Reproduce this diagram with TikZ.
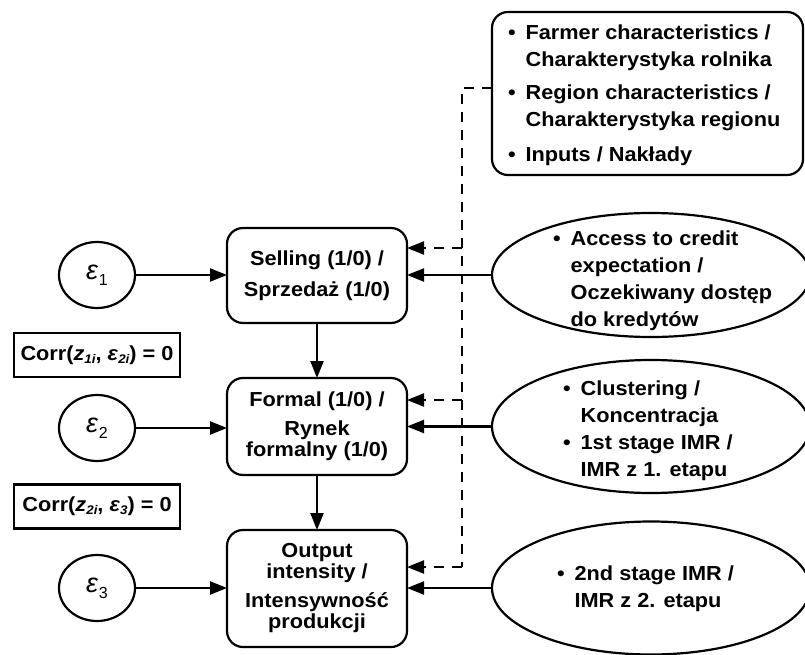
\documentclass[tikz,border=0pt]{standalone}
\usepackage{fontspec}
\setmainfont{Liberation Sans}[FakeStretch=1.07]
\newfontfamily\epsfont{Liberation Sans}
\usetikzlibrary{shapes.geometric,arrows.meta}
\begin{document}
\begin{tikzpicture}[x=1pt,y=-1pt,
 every node/.style={font=\fontsize{20.3}{21}\selectfont\bfseries, inner sep=0pt, outer sep=0pt},
 ln/.style={line width=2.2pt},
 arr/.style={ln,-{Triangle[length=17pt,width=13pt]}},
 dsh/.style={ln,dash pattern=on 10pt off 8pt},
 rbox/.style={draw,ln,rounded corners=16pt,minimum width=180pt,align=center},
 eps/.style={draw,ln,ellipse,minimum width=76pt,minimum height=66pt},
 oval/.style={draw,ln,ellipse,minimum width=318pt},
 corr/.style={draw,ln,minimum width=166pt,minimum height=44pt},
 lst/.style={anchor=base west}]
\useasboundingbox (0,0) rectangle (805,655);
\newcommand\epsl[1]{{\epsfont\mdseries\fontsize{27}{27}\selectfont\itshape ε\kern1pt\raisebox{-6pt}{\fontsize{16}{16}\selectfont\upshape #1}}}
\newcommand\sbs[1]{\raisebox{-3pt}{\fontsize{12.5}{12.5}\selectfont\itshape #1}}

% main boxes
\node[rbox,minimum height=95pt] (sell) at (317,275.5) {Selling (1/0) /\\[10pt]Sprzedaż (1/0)};
\node[rbox,minimum height=97pt] (form) at (317,426.5) {Formal (1/0) /\\[8pt]Rynek\\formalny (1/0)};
\node[rbox,minimum height=117pt] (outp) at (317,588.5) {Output\\intensity /\\[8pt]Intensywność\\produkcji};

% epsilons
\node[eps] (e1) at (97,275) {\epsl{1}};
\node[eps] (e2) at (97,428) {\epsl{2}};
\node[eps] (e3) at (97,588) {\epsl{3}};

% correlation boxes
\node[corr] (c1) at (97,355) {Corr(\textit{z}\sbs{1i}, \textit{ε}\sbs{2i}) = 0};
\node[corr] (c2) at (97,506.5) {Corr(\textit{z}\sbs{2i}, \textit{ε}\sbs{3}) = 0};

% top box
\node[draw,ln,rounded corners=16pt,minimum width=311pt,minimum height=163pt] (top) at (647.5,93.5) {};
\node[lst] (toptxt) at (508,40) {\fontsize{20.3}{27}\selectfont\begin{tabular}[t]{@{}l@{\hspace{10pt}}l@{}}
• & Farmer characteristics /\\
 & Charakterystyka rolnika\\[6pt]
• & Region characteristics /\\
 & Charakterystyka regionu\\[8pt]
• & Inputs / Nakłady
\end{tabular}};

% ovals
\node[oval,minimum height=124pt] (o1) at (651,275) {};
\node[lst] (o1t) at (553,245) {\fontsize{20.3}{27}\selectfont\begin{tabular}[t]{@{}l@{\hspace{10pt}}l@{}}
• & Access to credit\\
 & expectation /\\
 & Oczekiwany dostęp\\
 & do kredytów
\end{tabular}};
\node[oval,minimum height=133pt] (o2) at (651,426.5) {};
\node[lst] (o2t) at (563,395) {\fontsize{20.3}{27}\selectfont\begin{tabular}[t]{@{}l@{\hspace{10pt}}l@{}}
• & Clustering /\\
 & Koncentracja\\
• & 1st stage IMR /\\
 & IMR z 1. etapu
\end{tabular}};
\node[oval,minimum height=133pt] (o3) at (651,588) {};
\node[lst] (o3t) at (557,580) {\fontsize{20.3}{27}\selectfont\begin{tabular}[t]{@{}l@{\hspace{10pt}}l@{}}
• & 2nd stage IMR /\\
 & IMR z 2. etapu
\end{tabular}};

% solid arrows
\draw[arr] (e1.east) -- (e1.east -| sell.west);
\draw[arr] (e2.east) -- (e2.east -| form.west);
\draw[arr] (e3.east) -- (e3.east -| outp.west);
\draw[arr] (sell.south) -- (form.north);
\draw[arr] (form.south) -- (outp.north);
\draw[arr] (o1.west) -- (o1.west -| sell.east);
\draw[arr] (o2.west) -- (o2.west -| form.east);
\draw[arr] (o3.west) -- (o3.west -| outp.east);

% dashed connectors
\coordinate (dt) at (462,88);
\coordinate (d1) at (462,248);
\coordinate (d2) at (462,400);
\coordinate (d3) at (462,567);
\draw[dsh] (dt -| top.west) -- (dt) -- (d3);
\draw[dsh,-{Triangle[length=17pt,width=13pt]}] (d1) -- (d1 -| sell.east);
\draw[dsh,-{Triangle[length=17pt,width=13pt]}] (d2) -- (d2 -| form.east);
\draw[dsh,-{Triangle[length=17pt,width=13pt]}] (d3) -- (d3 -| outp.east);
\end{tikzpicture}
\end{document}
